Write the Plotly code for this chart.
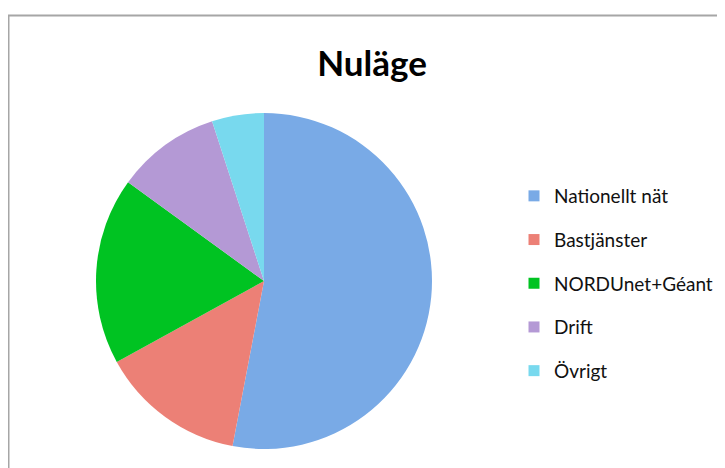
import plotly.graph_objects as go

title_text = "Nuläge"
categories = ["Nationellt nät", "Bastjänster", "NORDUnet+Géant", "Drift", "Övrigt"]
values = [53, 14, 18, 10, 5]
colors = ["#79aae6", "#ec8076", "#00c322", "#b499d5", "#78d9ee"]

W, H = 725, 468
OFF = 8  # page body margin
cx, cy, r = 264 - OFF, 281 - OFF, 168

fig = go.Figure()
fig.add_trace(go.Pie(
    labels=categories, values=values, sort=False, direction="clockwise", rotation=0,
    marker=dict(colors=colors, line=dict(width=0)),
    textinfo="none", showlegend=False,
    domain=dict(x=[(cx - r) / W, (cx + r) / W], y=[1 - (cy + r) / H, 1 - (cy - r) / H]),
))

for i, (lab, col) in enumerate(zip(categories, colors)):
    fig.add_trace(go.Scatter(
        x=[None], y=[None], mode="markers", name=lab, legendgroup=f"g{i}",
        marker=dict(symbol="square", size=11, color=col, line=dict(width=0)),
        showlegend=True,
    ))

fig.update_layout(
    width=W, height=H,
    margin=dict(l=0, r=0, t=0, b=0),
    paper_bgcolor="white", plot_bgcolor="white",
    xaxis=dict(visible=False), yaxis=dict(visible=False),
    title=dict(text=f"<b>{title_text}</b>", x=(372 - OFF) / W, xanchor="center",
               y=1 - (64 - OFF) / H, yanchor="middle",
               font=dict(family="Lato", size=35, color="#000000")),
    legend=dict(x=(514 - OFF) / W, xanchor="left", y=1 - (177 - OFF) / H, yanchor="top",
                font=dict(family="Lato", size=19, color="#111111"),
                traceorder="grouped", tracegroupgap=16,
                bgcolor="rgba(0,0,0,0)", itemclick=False, itemdoubleclick=False),
    shapes=[dict(type="rect", xref="paper", yref="paper",
                 x0=(8.5 - OFF) / W, x1=1.5, y0=-0.5, y1=1 - (15.5 - OFF) / H,
                 line=dict(color="#a6a6a6", width=2), fillcolor="rgba(0,0,0,0)", layer="below")],
    showlegend=True,
)

fig.write_html("out.html")
